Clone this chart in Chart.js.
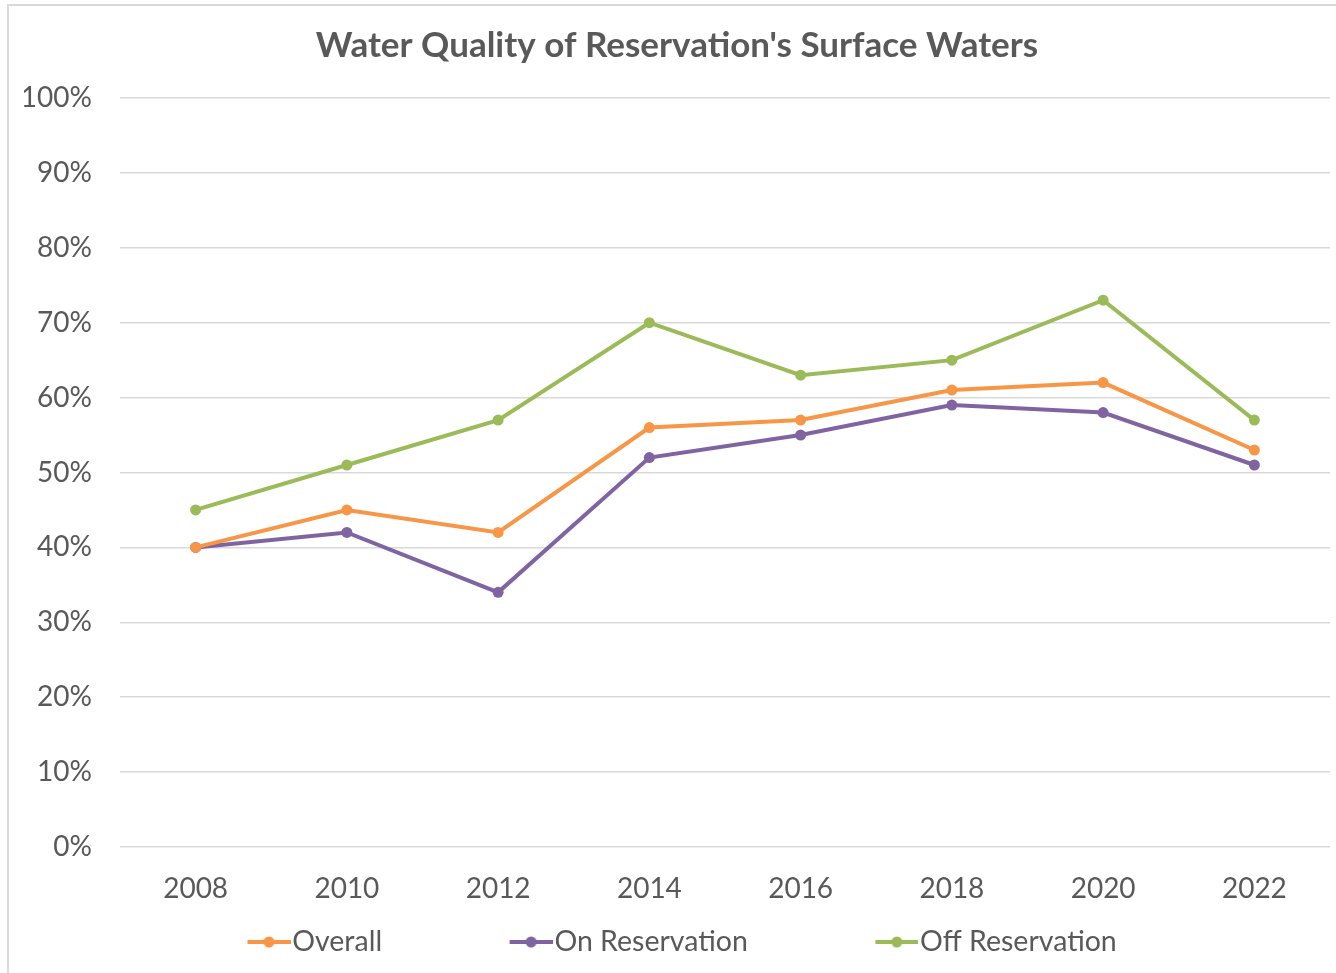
<!DOCTYPE html>
<html>
<head>
<meta charset="utf-8">
<script src="https://cdn.jsdelivr.net/npm/chart.js@4.4.0/dist/chart.umd.min.js"></script>
<style>
  html, body { margin: 0; padding: 0; background: #ffffff; }
  #wrap { position: relative; width: 1336px; height: 973px; overflow: hidden; }
  #frame { position: absolute; left: 7px; top: 4px; width: 1400px; height: 1100px;
           border-left: 2px solid #d9d9d9; border-top: 2px solid #d9d9d9; }
  #c { position: absolute; left: 0; top: 0; }
</style>
</head>
<body>
<div id="wrap">
  <div id="frame"></div>
  <canvas id="c" width="1336" height="973"></canvas>
</div>
<script>
const chartTitle = "Water Quality of Reservation's Surface Waters";
const years = ["2008", "2010", "2012", "2014", "2016", "2018", "2020", "2022"];
const seriesNames = ["Overall", "On Reservation", "Off Reservation"];
const overall = [40, 45, 42, 56, 57, 61, 62, 53];
const onReservation = [40, 42, 34, 52, 55, 59, 58, 51];
const offReservation = [45, 51, 57, 70, 63, 65, 73, 57];
const seriesColors = ["#F79646", "#8064A2", "#9BBB59"];

const FONT = "Lato";
const TEXT = "#595959";
const LEG_FS = 28.5;
const BOXW = 150;
const LEG_PAD = 8;

function legendMarker(color) {
  const c = document.createElement('canvas');
  const w = Math.round(BOXW + 2 * (LEG_FS / 2 - 2)), h = 14;
  c.width = w; c.height = h;
  const g = c.getContext('2d');
  g.strokeStyle = color; g.lineWidth = 4; g.lineCap = 'butt';
  g.beginPath(); g.moveTo(w - 43, h / 2); g.lineTo(w, h / 2); g.stroke();
  g.fillStyle = color;
  g.beginPath(); g.arc(w - 21.5, h / 2, 5.5, 0, Math.PI * 2); g.fill();
  return c;
}

const seriesData = [overall, onReservation, offReservation];
const datasets = seriesNames.map((name, i) => ({
  label: name,
  data: seriesData[i],
  borderColor: seriesColors[i],
  backgroundColor: seriesColors[i],
  borderWidth: 4,
  pointRadius: 5.5,
  pointHoverRadius: 5.5,
  pointBorderWidth: 0,
  pointBackgroundColor: seriesColors[i],
  tension: 0,
  fill: false
}));

new Chart(document.getElementById('c'), {
  type: 'line',
  data: { labels: years, datasets },
  options: {
    responsive: false,
    animation: false,
    layout: { padding: { left: 24, right: 6, top: 24.5, bottom: 6.75 } },
    plugins: {
      title: {
        display: true,
        text: chartTitle,
        color: TEXT,
        font: { family: FONT, size: 35, weight: 'bold' },
        padding: { top: 0, bottom: 31.5 }
      },
      legend: {
        position: 'bottom',
        align: 'start',
        fullSize: false,
        labels: {
          usePointStyle: true,
          pointStyleWidth: BOXW,
          padding: LEG_PAD,
          color: TEXT,
          font: { family: FONT, size: LEG_FS },
          generateLabels: (chart) => chart.data.datasets.map((ds, i) => ({
            text: ds.label,
            fillStyle: ds.borderColor,
            strokeStyle: ds.borderColor,
            fontColor: TEXT,
            lineWidth: 0,
            pointStyle: legendMarker(ds.borderColor),
            hidden: false,
            datasetIndex: i
          }))
        }
      },
      tooltip: { enabled: false }
    },
    scales: {
      x: {
        offset: true,
        grid: { display: false, drawTicks: false },
        border: { display: false },
        ticks: { color: TEXT, font: { family: FONT, size: 28 }, padding: 25, maxRotation: 0 },
        afterFit: (s) => { s.height = 72.75; }
      },
      y: {
        min: 0, max: 100,
        grid: { color: '#d9d9d9', lineWidth: 1.5, drawTicks: false },
        border: { display: false },
        ticks: {
          stepSize: 10,
          color: TEXT,
          font: { family: FONT, size: 28 },
          padding: 28,
          callback: (v) => v + '%'
        },
        afterFit: (s) => { s.width = 96; }
      }
    }
  }
});
</script>
</body>
</html>
